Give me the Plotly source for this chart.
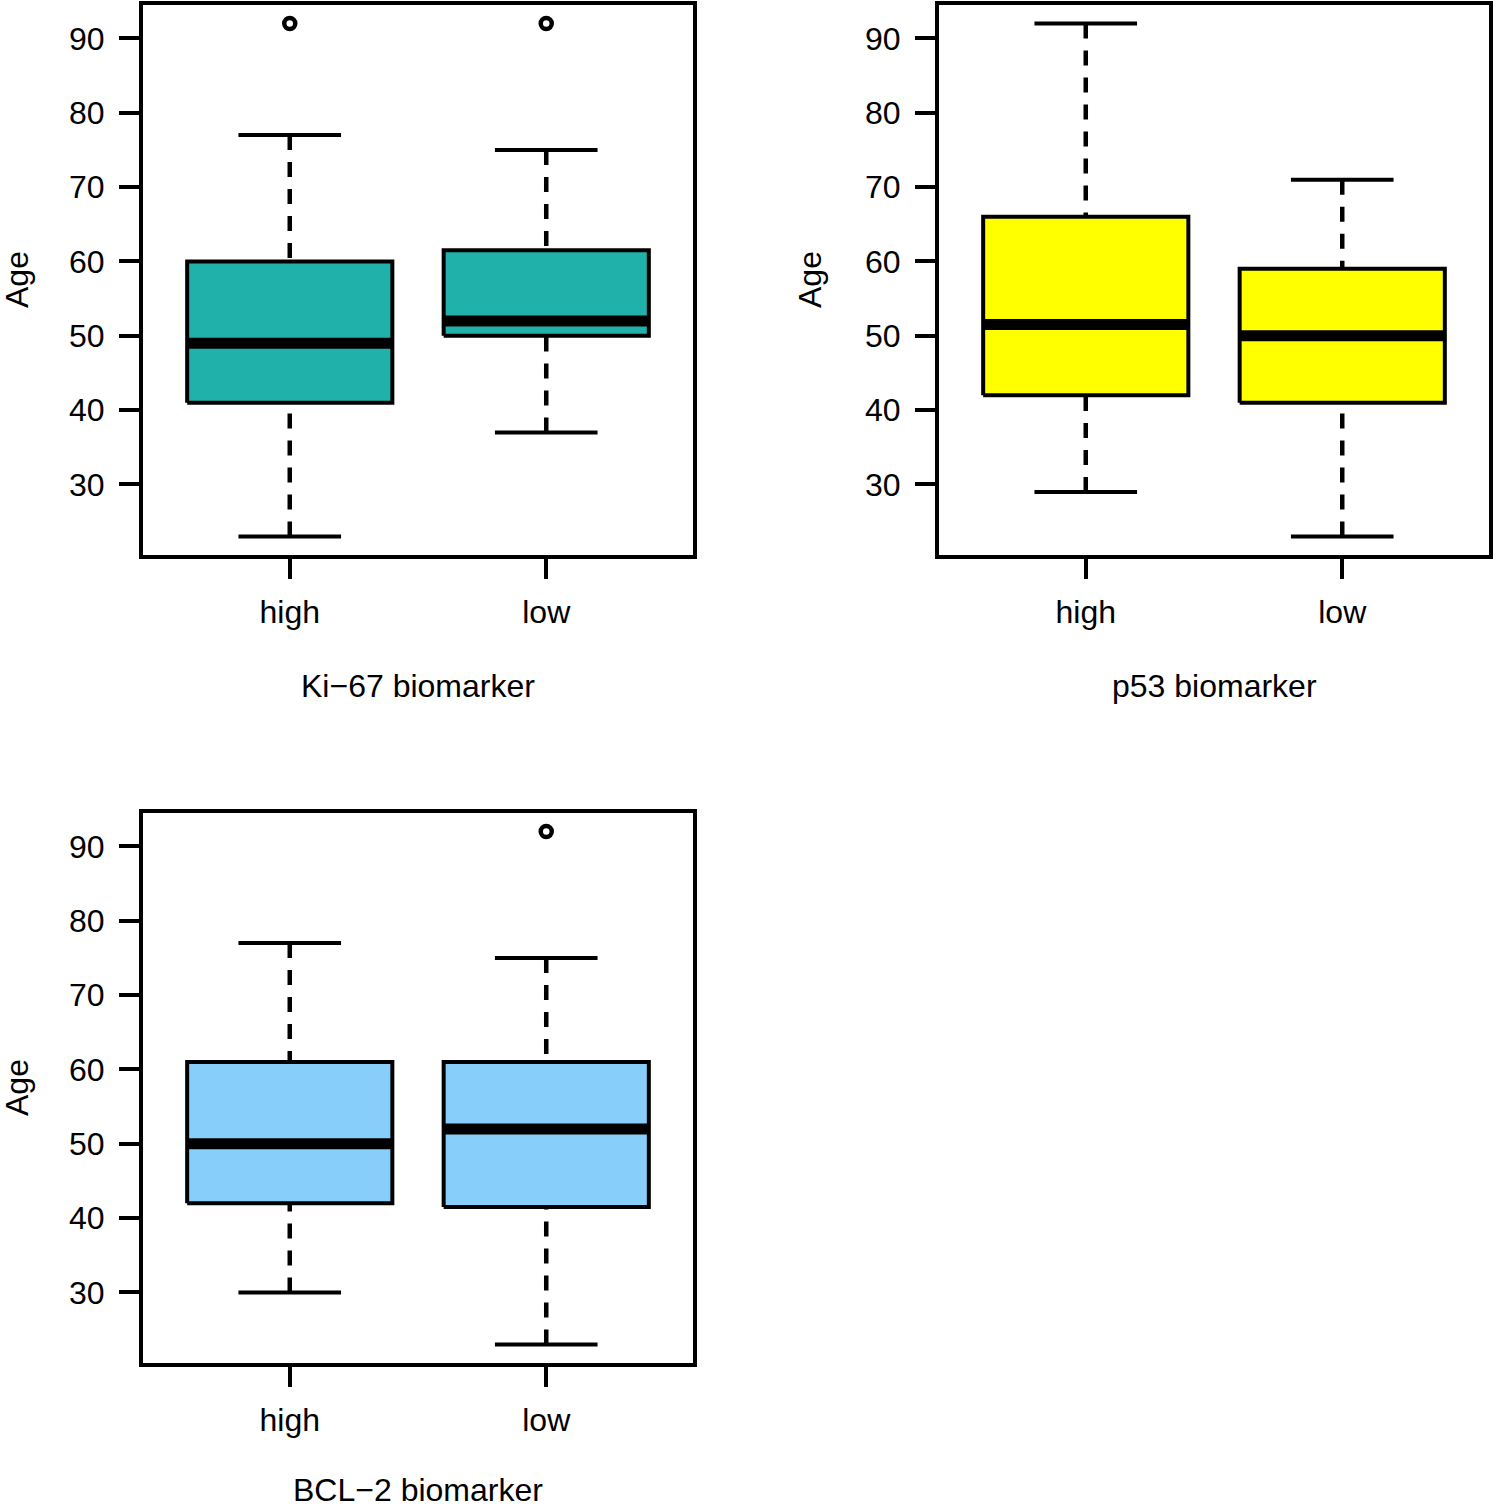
import plotly.graph_objects as go

# ---- data ----
groups = ["high", "low"]
panel_titles = ["Ki\u221267 biomarker", "p53 biomarker", "BCL\u22122 biomarker"]
panel_colors = ["#20B2AA", "#FFFF00", "#87CEFA"]

ki67_lower = [23, 37]
ki67_q1 = [41, 50]
ki67_median = [49, 52]
ki67_q3 = [60, 61.5]
ki67_upper = [77, 75]
ki67_outliers = [[92], [92]]

p53_lower = [29, 23]
p53_q1 = [42, 41]
p53_median = [51.5, 50]
p53_q3 = [66, 59]
p53_upper = [92, 71]
p53_outliers = [[], []]

bcl2_lower = [30, 23]
bcl2_q1 = [42, 41.5]
bcl2_median = [50, 52]
bcl2_q3 = [61, 61]
bcl2_upper = [77, 75]
bcl2_outliers = [[], [92]]

y_ticks = [30, 40, 50, 60, 70, 80, 90]

panels = [
    (ki67_lower, ki67_q1, ki67_median, ki67_q3, ki67_upper, ki67_outliers),
    (p53_lower, p53_q1, p53_median, p53_q3, p53_upper, p53_outliers),
    (bcl2_lower, bcl2_q1, bcl2_median, bcl2_q3, bcl2_upper, bcl2_outliers),
]

# ---- layout geometry ----
W, H = 1495, 1507
FONT = "Liberation Sans, Arial, Helvetica, sans-serif"
FS = 32
BOXW = 0.4   # half width of box
CAPW = 0.2   # half width of whisker cap
LW = 4       # axis frame line width
DASH = "15px,12px"

# pixel rectangles of the plot frames (line centres: left, top, right, bottom)
rects = [(141, 3, 695, 557), (937, 3, 1491, 557), (141, 811, 695, 1365)]
XR = [0.42, 2.58]
YR = [20.24, 94.76]

fig = go.Figure()
layout = dict(
    width=W, height=H, margin=dict(l=0, r=0, t=0, b=0),
    paper_bgcolor="white", plot_bgcolor="white", showlegend=False,
    font=dict(family=FONT, size=FS, color="black"),
)
annotations = []

for i, (lo, q1, med, q3, up, outs) in enumerate(panels):
    n = i + 1
    xa = "x" if n == 1 else f"x{n}"
    ya = "y" if n == 1 else f"y{n}"
    col = panel_colors[i]
    for j in range(len(groups)):
        xc = j + 1
        # whiskers (dashed), drawn from whisker end towards the box
        fig.add_trace(go.Scatter(x=[xc, xc], y=[up[j], q3[j]], mode="lines",
                                 line=dict(color="black", width=4.5, dash=DASH),
                                 xaxis=xa, yaxis=ya, hoverinfo="skip"))
        fig.add_trace(go.Scatter(x=[xc, xc], y=[lo[j], q1[j]], mode="lines",
                                 line=dict(color="black", width=4.5, dash=DASH),
                                 xaxis=xa, yaxis=ya, hoverinfo="skip"))
        # caps
        for v in (lo[j], up[j]):
            fig.add_trace(go.Scatter(x=[xc - CAPW, xc + CAPW], y=[v, v], mode="lines",
                                     line=dict(color="black", width=4),
                                     xaxis=xa, yaxis=ya, hoverinfo="skip"))
        # box
        fig.add_trace(go.Scatter(
            x=[xc - BOXW, xc + BOXW, xc + BOXW, xc - BOXW, xc - BOXW],
            y=[q1[j], q1[j], q3[j], q3[j], q1[j]],
            mode="lines", fill="toself", fillcolor=col,
            line=dict(color="black", width=4), xaxis=xa, yaxis=ya, hoverinfo="skip"))
        # median
        fig.add_trace(go.Scatter(x=[xc - BOXW, xc + BOXW], y=[med[j], med[j]], mode="lines",
                                 line=dict(color="black", width=11),
                                 xaxis=xa, yaxis=ya, hoverinfo="skip"))
        # outliers
        if outs[j]:
            fig.add_trace(go.Scatter(x=[xc] * len(outs[j]), y=outs[j], mode="markers",
                                     marker=dict(symbol="circle-open", size=11, color="black",
                                                 line=dict(width=4.5, color="black")),
                                     xaxis=xa, yaxis=ya, hoverinfo="skip"))

    L, T, R, B = rects[i]
    # plotly draws axis lines just outside the domain: inset by half the line width
    h = LW / 2
    xs = (XR[1] - XR[0]) / (R - L)
    ys = (YR[1] - YR[0]) / (B - T)
    xdom = [(L + h) / W, (R - h) / W]
    ydom = [1 - (B - h) / H, 1 - (T + h) / H]
    xkey = "xaxis" if n == 1 else f"xaxis{n}"
    ykey = "yaxis" if n == 1 else f"yaxis{n}"
    layout[xkey] = dict(domain=xdom, anchor=ya, range=[XR[0] + h * xs, XR[1] - h * xs],
                        tickvals=[1, 2], ticktext=groups, ticks="outside",
                        ticklen=20, tickwidth=4, tickcolor="black",
                        showline=True, linewidth=LW, linecolor="black", mirror=True,
                        showgrid=False, zeroline=False, ticklabelstandoff=6,
                        tickfont=dict(family=FONT, size=FS, color="black"))
    layout[ykey] = dict(domain=ydom, anchor=xa, range=[YR[0] + h * ys, YR[1] - h * ys],
                        tickvals=y_ticks, ticks="outside",
                        ticklen=20, tickwidth=4, tickcolor="black",
                        showline=True, linewidth=LW, linecolor="black", mirror=True,
                        showgrid=False, zeroline=False, ticklabelstandoff=8,
                        tickfont=dict(family=FONT, size=FS, color="black"))
    # axis titles (kept just inside the page edges)
    title_y = min(B + 129, H - 17)
    annotations.append(dict(text=panel_titles[i], xref="paper", yref="paper",
                            x=(L + R) / 2 / W, y=1 - title_y / H,
                            xanchor="center", yanchor="middle", showarrow=False,
                            font=dict(family=FONT, size=FS, color="black")))
    annotations.append(dict(text="Age", xref="paper", yref="paper",
                            x=max(L - 127, 17) / W, y=1 - ((T + B) / 2) / H, textangle=-90,
                            xanchor="center", yanchor="middle", showarrow=False,
                            font=dict(family=FONT, size=FS, color="black")))

layout["annotations"] = annotations
fig.update_layout(**layout)
fig.write_html("out.html",
               config={"displayModeBar": False},
               post_script="document.body.style.margin='0';document.body.style.padding='0';"
                           "document.body.style.overflow='hidden';")
